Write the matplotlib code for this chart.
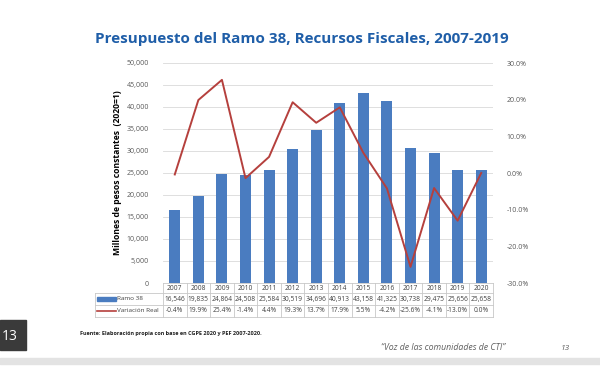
import matplotlib.pyplot as plt
import matplotlib.patches as mpatches
from matplotlib.lines import Line2D
import numpy as np

years = ['2007', '2008', '2009', '2010', '2011', '2012', '2013', '2014', '2015', '2016', '2017', '2018', '2019', '2020']
ramo38 = [16546, 19835, 24864, 24508, 25584, 30519, 34696, 40913, 43158, 41325, 30738, 29475, 25656, 25658]
variacion = [-0.4, 19.9, 25.4, -1.4, 4.4, 19.3, 13.7, 17.9, 5.5, -4.2, -25.6, -4.1, -13.0, 0.0]
left_ticks = [0, 5000, 10000, 15000, 20000, 25000, 30000, 35000, 40000, 45000, 50000]
right_ticks = [-30, -20, -10, 0, 10, 20, 30]

bar_color = '#4A7CC0'
line_color = '#B5403D'
grid_color = '#D9D9D9'
tick_color = '#595959'
fam = ['Open Sans', 'DejaVu Sans']

W, H = 600, 375
fig = plt.figure(figsize=(6, 3.75), dpi=100)

def fx(px):
    return px / W

def fy(py):
    return 1 - py / H

ax_l, ax_r, ax_t, ax_b = 163, 493, 63, 283
ax = fig.add_axes([fx(ax_l), fy(ax_b), fx(ax_r - ax_l), (ax_b - ax_t) / H])
x = np.arange(len(years))
ax.bar(x, ramo38, width=0.47, color=bar_color, zorder=2)
ax.set_xlim(-0.5, len(years) - 0.5)
ax.set_ylim(0, 50000)
ax.set_yticks(left_ticks)
ax.set_yticklabels([f'{v:,}' for v in left_ticks], fontsize=5, color=tick_color, family=fam)
ax.set_xticks([])
ax.grid(axis='y', color=grid_color, linewidth=0.6, zorder=0)
for s in ax.spines.values():
    s.set_visible(False)
ax.tick_params(axis='y', length=0, pad=10)

ax2 = ax.twinx()
ax2.plot(x, variacion, color=line_color, linewidth=1.4, zorder=3)
ax2.set_ylim(-30, 30)
ax2.set_yticks(right_ticks)
ax2.set_yticklabels([f'{v:.1f}%' for v in right_ticks], fontsize=5, color=tick_color, family=fam)
ax2.tick_params(axis='y', length=0, pad=10)
for s in ax2.spines.values():
    s.set_visible(False)

ax.set_ylabel('Millones de pesos constantes  (2020=1)', fontsize=6.2, fontweight='bold', family=fam, labelpad=3)

# data table below the axes
px_per_unit = (ax_r - ax_l) / len(years)
tbl_left = -0.5 - (ax_l - 95) / px_per_unit
ax_h = ax_b - ax_t
rows = [0, -10 / ax_h, -22 / ax_h, -34 / ax_h]
tr = ax.get_xaxis_transform()
lc = '#C8C8C8'
for i, yv in enumerate(rows):
    x0 = -0.5 if i == 0 else tbl_left
    ax.add_line(Line2D([x0, len(years) - 0.5], [yv, yv], transform=tr, color=lc, lw=0.6, clip_on=False))
ax.add_line(Line2D([tbl_left, tbl_left], [rows[1], rows[3]], transform=tr, color=lc, lw=0.6, clip_on=False))
for k in range(len(years) + 1):
    ax.add_line(Line2D([k - 0.5, k - 0.5], [rows[0], rows[3]], transform=tr, color=lc, lw=0.6, clip_on=False))

for i, yr in enumerate(years):
    ax.text(i, (rows[0] + rows[1]) / 2, yr, transform=tr, ha='center', va='center', fontsize=4.8, color='#404040', family=fam, clip_on=False)
    ax.text(i, (rows[1] + rows[2]) / 2, f'{ramo38[i]:,}', transform=tr, ha='center', va='center', fontsize=4.8, color='#404040', family=fam, clip_on=False)
    ax.text(i, (rows[2] + rows[3]) / 2, f'{variacion[i]:.1f}%', transform=tr, ha='center', va='center', fontsize=4.8, color='#404040', family=fam, clip_on=False)

ym1 = (rows[1] + rows[2]) / 2
ym2 = (rows[2] + rows[3]) / 2
key0 = tbl_left + 0.1
key1 = key0 + 0.8
ax.add_patch(mpatches.Rectangle((key0, ym1 - 0.01), key1 - key0, 0.02, transform=tr, color=bar_color, clip_on=False))
ax.add_line(Line2D([key0, key1], [ym2, ym2], transform=tr, color=line_color, lw=1.2, clip_on=False))
ax.text(key1 + 0.05, ym1, 'Ramo 38', transform=tr, ha='left', va='center', fontsize=4.6, color='#404040', family=fam, clip_on=False)
ax.text(key1 + 0.05, ym2, 'Variación Real', transform=tr, ha='left', va='center', fontsize=4.6, color='#404040', family=fam, clip_on=False)

fig.text(fx(302), fy(39), 'Presupuesto del Ramo 38, Recursos Fiscales, 2007-2019', ha='center', va='center',
         fontsize=11, fontweight='bold', color='#1F5EA8', family=fam)
fig.text(fx(80), fy(334), 'Fuente: Elaboración propia con base en CGPE 2020 y PEF 2007-2020.', ha='left', va='center',
         fontsize=4, fontweight='bold', color='#222222', family=fam)
fig.text(fx(505), fy(348), '“Voz de las comunidades de CTI”', ha='right', va='center',
         fontsize=6.3, style='italic', color='#606060', family=fam)
fig.text(fx(565), fy(348), '13', ha='center', va='center', fontsize=6, style='italic', color='#606060', family=fam)

fig.add_artist(mpatches.Rectangle((0, fy(350)), fx(26), (350 - 320) / H, transform=fig.transFigure, color='#3A3A3A'))
fig.text(fx(10), fy(336), '13', ha='center', va='center', fontsize=10, color='white', family=fam)
fig.add_artist(mpatches.Rectangle((0, fy(364)), 1, 6 / H, transform=fig.transFigure, color='#E3E3E3'))

fig.savefig('out.png', dpi=100)
